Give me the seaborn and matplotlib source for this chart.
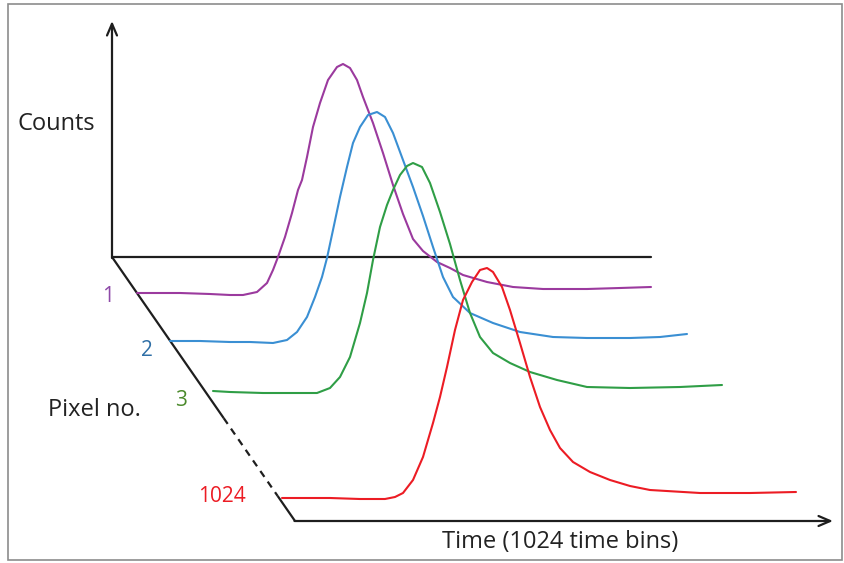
import matplotlib

matplotlib.use("Agg")

import matplotlib.pyplot as plt
import numpy as np
import pandas as pd
import seaborn as sns
from matplotlib.patches import Rectangle

# pixel rows shown in the sketch
pixel_labels = ["1", "2", "3", "1024"]
pixel_colors = ["#9b3a9e", "#3a8fd3", "#2f9e46", "#ec1c24"]
label_colors = ["#8e4aa8", "#2f6fa6", "#4b8a2c", "#ec1c24"]

# where each row starts on the oblique pixel axis (time bins, counts)
row_shift_time = [50, 116, 202, 340]
row_shift_counts = [-36, -84, -134, -241]

# counts vs time bin per pixel
time_1 = [0, 86, 146, 186, 212, 240, 260, 272, 282, 296, 310, 322, 330, 340, 352, 366, 382, 400,
          412, 426, 440, 452, 472, 492, 512, 532, 552, 572, 600, 626, 652, 700, 752, 812, 900,
          966, 1028]
counts_1 = [0, 0, -1, -2, -2, 1, 10, 23, 36, 56, 80, 103, 113, 136, 166, 190, 213, 226,
            229, 225, 213, 196, 170, 140, 108, 79, 54, 42, 31, 25, 18, 11, 6, 4, 4,
            5, 6]

time_2 = [0, 60, 120, 160, 206, 234, 254, 274, 290, 304, 314, 326, 340, 354, 366, 380, 396, 414,
          430, 446, 466, 486, 506, 526, 546, 566, 600, 646, 700, 766, 834, 920, 980, 1034]
counts_2 = [0, 0, -1, -1, -2, 1, 9, 24, 44, 64, 83, 111, 144, 174, 198, 214, 226, 229,
            224, 208, 181, 154, 125, 94, 64, 44, 28, 18, 9, 4, 3, 3, 4, 7]

time_3 = [0, 34, 100, 168, 208, 234, 254, 274, 294, 308, 320, 334, 348, 360, 374, 388, 400, 418,
          434, 454, 474, 494, 514, 534, 560, 594, 634, 688, 748, 834, 934, 1018]
counts_3 = [0, -1, -2, -2, -2, 3, 14, 34, 68, 98, 131, 164, 186, 201, 216, 225, 228, 224,
            208, 179, 147, 111, 78, 54, 38, 28, 19, 11, 4, 3, 4, 6]

time_1024 = [0, 96, 156, 206, 226, 242, 262, 282, 302, 316, 330, 346, 362, 380, 396, 410, 422, 440,
             456, 476, 496, 516, 536, 556, 582, 616, 656, 696, 736, 836, 936, 1028]
counts_1024 = [0, 0, -1, -1, 1, 5, 18, 41, 75, 101, 131, 168, 198, 216, 228, 230, 226, 211,
               188, 155, 121, 91, 68, 50, 36, 26, 18, 12, 8, 5, 5, 6]

traces_time = [time_1, time_2, time_3, time_1024]
traces_counts = [counts_1, counts_2, counts_3, counts_1024]

# frame of the sketch (time bins, counts)
counts_axis_top = 236
back_axis_end = 1078
depth_end = (366, -264)
time_axis_end = 1442

W, H = 845, 563


def fx(px):
    return px / W


def fy(py):
    return 1 - py / H


def main() -> None:
    sns.set_theme(style="white")
    plt.rcParams["font.family"] = ["Open Sans", "DejaVu Sans"]

    fig = plt.figure(figsize=(W / 100, H / 100), dpi=100)
    ax = fig.add_axes([0, 0, 1, 1])
    ax.set_xlim(-224, 1466)
    ax.set_ylim(-306, 257)
    ax.axis("off")

    rows = []
    for label, t, c, dt, dc in zip(pixel_labels, traces_time, traces_counts,
                                   row_shift_time, row_shift_counts):
        rows.append(pd.DataFrame({
            "pixel": label,
            "time": np.asarray(t) + dt,
            "counts": np.asarray(c) + dc,
        }))
    data = pd.concat(rows, ignore_index=True)

    ink = "#1e1e1e"
    axis_lw = 1.6

    # back baseline and counts axis
    ax.plot([0, back_axis_end], [0, 0], color=ink, lw=axis_lw, zorder=1)
    ax.annotate("", xy=(0, counts_axis_top), xytext=(0, -1),
                arrowprops=dict(arrowstyle="->,head_length=0.7,head_width=0.3",
                                color=ink, lw=axis_lw, shrinkA=0, shrinkB=0))

    # oblique pixel axis: solid, dashed, solid
    dx, dy = depth_end
    ax.plot([0, 0.61 * dx], [0, 0.61 * dy], color=ink, lw=axis_lw, solid_capstyle="butt")
    ax.plot([0.61 * dx, 0.905 * dx], [0.61 * dy, 0.905 * dy], color=ink, lw=axis_lw,
            dashes=(3.2, 2.6))
    ax.plot([0.905 * dx, dx], [0.905 * dy, dy], color=ink, lw=axis_lw, solid_capstyle="butt")

    # time axis
    ax.annotate("", xy=(time_axis_end, dy), xytext=(dx - 1, dy),
                arrowprops=dict(arrowstyle="->,head_length=0.7,head_width=0.3",
                                color=ink, lw=axis_lw, shrinkA=0, shrinkB=0))

    sns.lineplot(data=data, x="time", y="counts", hue="pixel", hue_order=pixel_labels,
                 palette=dict(zip(pixel_labels, pixel_colors)), sort=False,
                 estimator=None, linewidth=1.5, legend=False, ax=ax, zorder=3)
    for line in ax.lines[-4:]:
        line.set_solid_joinstyle("round")
        line.set_solid_capstyle("round")

    tr = ax.transAxes
    ax.text(fx(56), fy(124), "Counts", transform=tr, ha="center", va="center",
            fontsize=17, color="#222222")
    ax.text(fx(94), fy(410), "Pixel no.", transform=tr, ha="center", va="center",
            fontsize=17, color="#222222")
    ax.text(fx(560), fy(542), "Time (1024 time bins)", transform=tr, ha="center",
            va="center", fontsize=17, color="#222222")
    for label, color, (px, py) in zip(pixel_labels, label_colors,
                                      [(108, 296), (147, 351), (181, 400), (222, 497)]):
        ax.text(fx(px), fy(py), label, transform=tr, ha="center", va="center",
                fontsize=15, color=color)

    fig.patches.append(Rectangle((fx(8), fy(560)), fx(834), 556 / H, transform=fig.transFigure,
                                 fill=False, edgecolor="#8c8c8c", lw=1.2))

    fig.savefig("out.png", dpi=100)
    plt.close(fig)


if __name__ == "__main__":
    main()
